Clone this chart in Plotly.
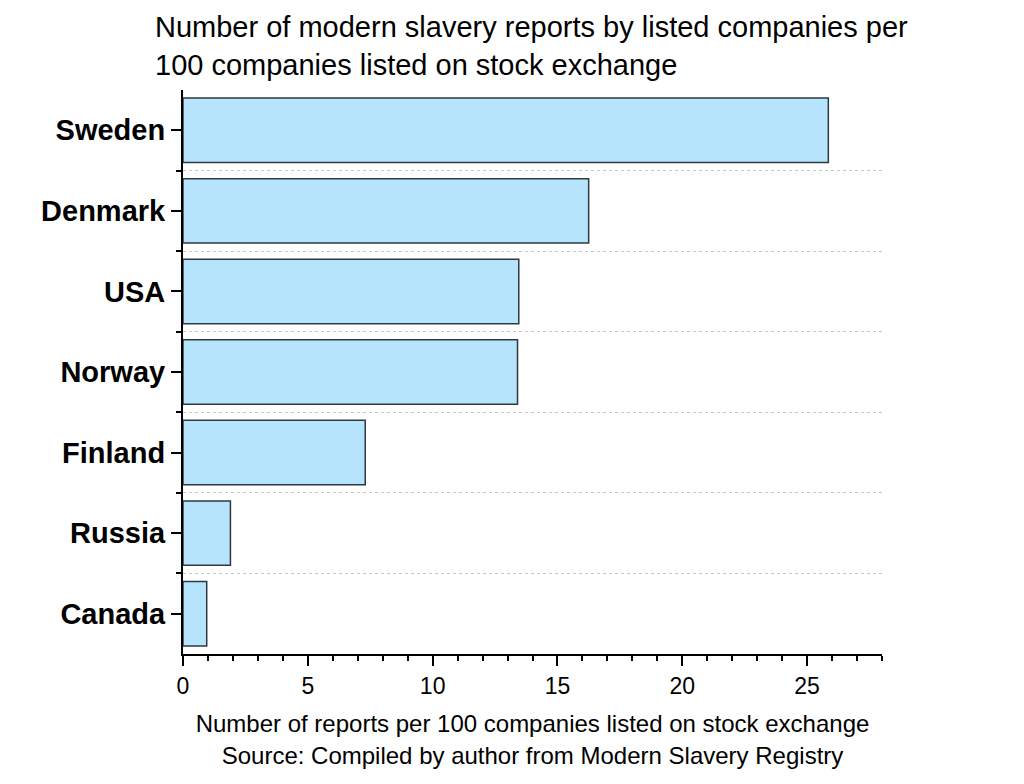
import plotly.graph_objects as go

countries = ["Sweden", "Denmark", "USA", "Norway", "Finland", "Russia", "Canada"]
reports = [25.85, 16.25, 13.45, 13.4, 7.3, 1.9, 0.95]

x_ticks = [0, 5, 10, 15, 20, 25]
title_text = "Number of modern slavery reports by listed companies per<br>100 companies listed on stock exchange"
x_title = "Number of reports per 100 companies listed on stock exchange<br>Source: Compiled by author from Modern Slavery Registry"

FONT = "Arial, Liberation Sans, sans-serif"
pos = list(range(len(countries)))

fig = go.Figure(
    go.Bar(
        x=reports,
        y=pos,
        orientation="h",
        width=0.8,
        marker=dict(color="#B5E4FC", line=dict(color="#2E3A40", width=1.5)),
        hoverinfo="x",
    )
)

fig.update_layout(
    width=1024,
    height=784,
    paper_bgcolor="white",
    plot_bgcolor="white",
    margin=dict(l=183, r=142, t=90, b=130),
    font=dict(family=FONT, color="black"),
    showlegend=False,
    title=dict(
        text=title_text,
        x=155 / 1024,
        xref="container",
        xanchor="left",
        y=0.953,
        yref="container",
        yanchor="top",
        font=dict(size=29, family=FONT, color="black"),
    ),
)

fig.update_xaxes(
    range=[0, 28],
    tickvals=x_ticks,
    ticks="outside",
    ticklen=10,
    tickwidth=2,
    tickcolor="black",
    showline=True,
    linecolor="black",
    linewidth=2,
    showgrid=False,
    zeroline=False,
    tickfont=dict(size=23, family=FONT),
    minor=dict(dtick=1, tick0=0, ticks="outside", ticklen=5, tickwidth=2, tickcolor="black", showgrid=False),
    title=dict(text=x_title, font=dict(size=24, family=FONT), standoff=18),
)

fig.update_yaxes(
    range=[6.5, -0.5],
    tickvals=pos,
    ticktext=countries,
    ticks="outside",
    ticklen=10,
    tickwidth=2,
    tickcolor="black",
    showline=True,
    linecolor="black",
    linewidth=2,
    showgrid=False,
    zeroline=False,
    tickfont=dict(size=29, family=FONT, weight="bold"),
    minor=dict(
        tickvals=[p + 0.5 for p in pos[:-1]],
        ticks="outside",
        ticklen=5,
        tickwidth=2,
        tickcolor="black",
        showgrid=True,
        gridcolor="#C8C8C8",
        gridwidth=1,
        griddash="dot",
    ),
)

fig.write_html(
    "out.html",
    config={"displayModeBar": False},
    post_script="document.body.style.margin='0';",
)
